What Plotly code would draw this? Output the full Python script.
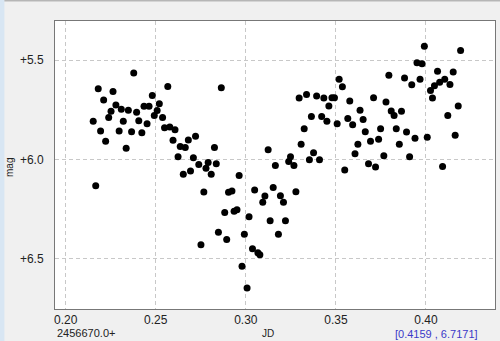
import plotly.graph_objects as go

# Julian Date offset from 2456670.0 and magnitude
jd = [0.2153, 0.2181, 0.2194, 0.2211, 0.2222, 0.2239, 0.2252, 0.2263, 0.2279, 0.2297,
      0.2309, 0.2320, 0.2336, 0.2348, 0.2366, 0.2378, 0.2394, 0.2406, 0.2423, 0.2435,
      0.2452, 0.2463, 0.2481, 0.2492, 0.2508, 0.2520, 0.2538, 0.2549, 0.2567, 0.2578,
      0.2596, 0.2607, 0.2624, 0.2636, 0.2664, 0.2681, 0.2693, 0.2709, 0.2721, 0.2739,
      0.2779, 0.2791, 0.2826, 0.2836, 0.2864, 0.3124, 0.3164, 0.3238, 0.3248, 0.3267,
      0.3296, 0.3307, 0.3324, 0.3337, 0.3353, 0.3364, 0.3376, 0.3393, 0.3409, 0.3421,
      0.3433, 0.3450, 0.3461, 0.3478, 0.3492, 0.3507, 0.3518, 0.3536, 0.3549, 0.3566,
      0.3577, 0.3593, 0.3606, 0.3622, 0.3634, 0.3651, 0.3663, 0.3681, 0.3692, 0.3709,
      0.3720, 0.3737, 0.3748, 0.3766, 0.3778, 0.3794, 0.3807, 0.3823, 0.3835, 0.3852,
      0.3864, 0.3881, 0.3892, 0.3909, 0.3921, 0.3939, 0.3950, 0.3967, 0.3978, 0.3991,
      0.4007, 0.4025, 0.4036, 0.4047, 0.4064, 0.4076, 0.4092, 0.4104, 0.4121, 0.4133,
      0.4151, 0.4162, 0.4179, 0.4192, 0.2167, 0.2653, 0.2808, 0.2963, 0.2767, 0.2904,
      0.2923, 0.2883, 0.2935, 0.2951, 0.3018, 0.2848, 0.2992, 0.2894, 0.2751, 0.2979,
      0.3007, 0.3049, 0.3106, 0.3094, 0.3152, 0.3192, 0.3209, 0.3278, 0.3135, 0.3220,
      0.3181, 0.3037, 0.3067, 0.3078]
mag = [5.808, 5.643, 5.856, 5.700, 5.908, 5.789, 5.757, 5.658, 5.725, 5.856,
       5.747, 5.808, 5.944, 5.752, 5.860, 5.564, 5.762, 5.805, 5.866, 5.732,
       5.820, 5.732, 5.678, 5.778, 5.753, 5.719, 5.789, 5.840, 5.632, 5.836,
       5.903, 5.850, 5.986, 5.935, 5.940, 5.902, 6.058, 5.991, 5.883, 6.025,
       6.045, 6.016, 5.940, 6.022, 5.638, 5.951, 6.030, 6.010, 5.986, 6.030,
       5.690, 5.923, 5.845, 5.673, 6.002, 5.783, 5.966, 5.680, 6.002, 5.783,
       5.690, 5.808, 5.731, 5.689, 5.689, 5.820, 5.596, 5.634, 6.053, 5.793,
       5.705, 5.825, 5.971, 5.923, 5.752, 5.799, 5.860, 6.022, 5.908, 5.689,
       6.038, 5.898, 5.845, 5.981, 5.710, 5.575, 5.756, 5.778, 5.845, 5.924,
       5.757, 5.590, 5.861, 5.986, 5.623, 5.893, 5.512, 5.596, 5.517, 5.429,
       5.888, 5.653, 5.690, 5.628, 5.555, 5.611, 6.036, 5.596, 5.778, 5.622,
       5.559, 5.878, 5.731, 5.451, 6.132, 6.075, 6.075, 6.081, 6.164, 6.165,
       6.159, 6.268, 6.261, 6.253, 6.289, 6.367, 6.377, 6.404, 6.430, 6.539,
       6.648, 6.154, 6.184, 6.216, 6.142, 6.183, 6.216, 6.163, 6.309, 6.309,
       6.377, 6.450, 6.470, 6.481]

x_ticks = [0.20, 0.25, 0.30, 0.35, 0.40]
x_ticktext = ["0.20", "0.25", "0.30", "0.35", "0.40"]
y_ticks = [5.5, 6.0, 6.5]
y_ticktext = ["+5.5", "+6.0", "+6.5"]

FONT = "Liberation Sans, Arial, sans-serif"

fig = go.Figure(go.Scatter(
    x=jd, y=mag, mode="markers",
    marker=dict(color="black", size=7, line=dict(width=0)),
    hoverinfo="skip",
))

fig.update_layout(
    width=500, height=341,
    margin=dict(l=55, r=5, t=21, b=32),
    paper_bgcolor="#f0f0f0",
    plot_bgcolor="white",
    showlegend=False,
    font=dict(family=FONT, size=12, color="#222222"),
    xaxis=dict(
        range=[0.1941, 0.4383], tickvals=x_ticks, ticktext=x_ticktext,
        showgrid=True, gridcolor="#c8c8c8", griddash="4px,3px", gridwidth=1,
        zeroline=False, showline=True, linecolor="#777777", linewidth=1, mirror=True,
        ticks="", tickfont=dict(size=12, color="#222222"),
    ),
    yaxis=dict(
        range=[6.754, 5.302], tickvals=y_ticks, ticktext=y_ticktext,
        showgrid=True, gridcolor="#c8c8c8", griddash="4px,3px", gridwidth=1,
        zeroline=False, showline=True, linecolor="#777777", linewidth=1, mirror=True,
        ticks="", ticklabelstandoff=8, tickfont=dict(size=12, color="#222222"),
    ),
    shapes=[
        dict(type="rect", xref="paper", yref="paper", x0=-0.125, x1=-0.115, y0=-0.12, y1=1.08,
             line=dict(width=0), fillcolor="#d8e6f3", layer="below"),
        dict(type="line", xref="paper", yref="paper", x0=-0.115, x1=1.02, y0=1.07, y1=1.07,
             line=dict(width=1, color="#9a9a9a"), layer="below"),
    ],
    annotations=[
        dict(text="2456670.0+", xref="paper", yref="paper", x=0.0, y=-0.083,
             xanchor="left", yanchor="middle", showarrow=False,
             font=dict(size=11, color="#222222")),
        dict(text="JD", xref="paper", yref="paper", x=0.484, y=-0.085,
             xanchor="center", yanchor="middle", showarrow=False,
             font=dict(size=10, color="#222222")),
        dict(text="[0.4159 , 6.7171]", xref="paper", yref="paper", x=0.965, y=-0.088,
             xanchor="right", yanchor="middle", showarrow=False,
             font=dict(size=11, color="#3a3ac8")),
        dict(text="mag", xref="paper", yref="paper", x=-0.102, y=0.49,
             xanchor="center", yanchor="middle", showarrow=False, textangle=-90,
             font=dict(size=10, color="#222222")),
    ],
)

fig.write_html("out.html")
